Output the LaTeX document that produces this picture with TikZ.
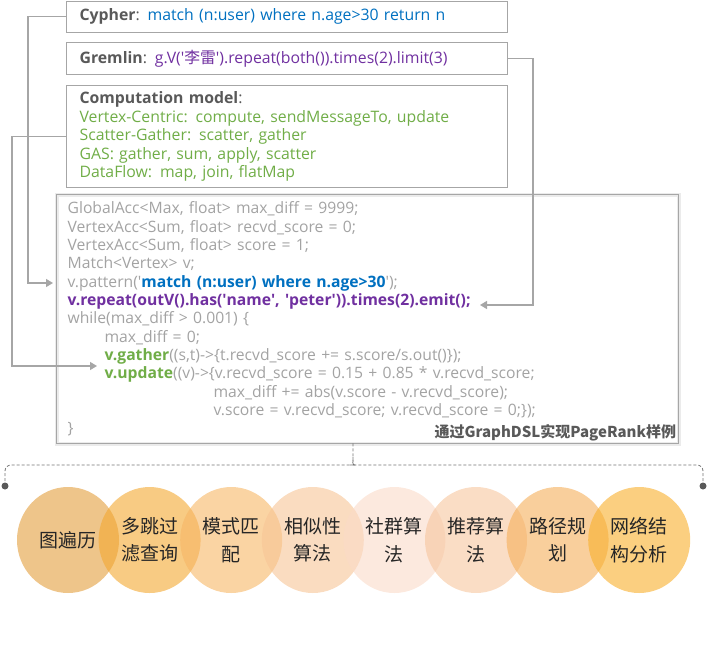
\documentclass[tikz,border=0pt]{standalone}
\usepackage{fontspec}
\setmainfont{Open Sans}
\newfontfamily\cjk{Noto Sans CJK SC}
\usetikzlibrary{arrows.meta,shapes.geometric}
\definecolor{boxgray}{HTML}{A6A6A6}
\definecolor{codegray}{HTML}{A3A3A3}
\definecolor{labgray}{HTML}{595959}
\definecolor{cyblue}{HTML}{0070C0}
\definecolor{grpurple}{HTML}{7030A0}
\definecolor{cmgreen}{HTML}{70AD47}
\definecolor{bub1}{HTML}{E39E3C}
\definecolor{bub2}{HTML}{F3A830}
\definecolor{bub3}{HTML}{F7B766}
\definecolor{bub4}{HTML}{F7C596}
\definecolor{bub5}{HTML}{FADAC8}
\definecolor{bub6}{HTML}{F7C69E}
\definecolor{bub7}{HTML}{F5AF5A}
\definecolor{bub8}{HTML}{F8AF2B}
\tikzset{
	langbox/.style={draw=boxgray, line width=1.2pt, anchor=north west, minimum width=441pt, text width=415pt, inner xsep=13pt, inner ysep=0pt, align=left, text=labgray, font=\fontsize{15.8}{18.5}\selectfont},
	codebox/.style={draw=boxgray, line width=1.2pt, preaction={draw=black!8, line width=4pt}, anchor=north west, minimum width=622pt, minimum height=249pt, text width=600pt, inner xsep=11pt, inner ysep=0pt, align=left, text=codegray, font=\fontsize{15.7}{18.33}\selectfont},
	link/.style={draw=boxgray, line width=1.3pt, -{Triangle[length=7pt,width=8pt]}},
	bracket/.style={draw=black!55, line width=0.8pt, dash pattern=on 3pt off 2pt},
	bubble/.style={ellipse, minimum width=102pt, minimum height=106pt, inner sep=0pt, align=center, fill opacity=0.6, text opacity=1, text=black!85, font=\cjk\fontsize{19}{27.5}\selectfont},
}
\begin{document}
\begin{tikzpicture}[x=1pt, y=-1pt]
	\path[use as bounding box] (0,0) rectangle (709,646);
	\path (28,0) coordinate (L1) (12,0) coordinate (L2) (533,0) coordinate (R1)
		(53,283) coordinate (pat) (97,366) coordinate (gat) (480,305) coordinate (rep)
		(353,443) coordinate (tip) (5,486) coordinate (dl) (703,486) coordinate (dr);
	\node[langbox, minimum height=31pt] (cy) at (66,0.6) {\textbf{Cypher}: \textcolor{cyblue}{match (n:user) where n.age>30 return n}};
	\node[langbox, minimum height=32pt] (gr) at (66,42) {\textbf{Gremlin}: \textcolor{grpurple}{g.V(\textquotesingle{\cjk 李雷}\textquotesingle).repeat(both()).times(2).limit(3)}};
	\node[langbox, minimum height=102pt] (cm) at (66,85) {\textbf{Computation model}:\\\color{cmgreen}Vertex-Centric: compute, sendMessageTo, update\\Scatter-Gather: scatter, gather\\GAS: gather, sum, apply, scatter\\DataFlow: map, join, flatMap};
	\node[codebox] (code) at (56,194) {GlobalAcc<Max, float> max\_diff = 9999;\\
		VertexAcc<Sum, float> recvd\_score = 0;\\
		VertexAcc<Sum, float> score = 1;\\
		Match<Vertex> v;\\
		v.pattern(\textquotesingle\textcolor{cyblue}{\bfseries match (n:user) where n.age>30}\textquotesingle);\\
		\textcolor{grpurple}{\bfseries v.repeat(outV().has(\textquotesingle name\textquotesingle, \textquotesingle peter\textquotesingle)).times(2).emit();}\\
		while(max\_diff > 0.001) \{\\
		\hspace*{37pt}max\_diff = 0;\\
		\hspace*{37pt}\textcolor{cmgreen}{\bfseries v.gather}((s,t)->\{t.recvd\_score += s.score/s.out()\});\\
		\hspace*{37pt}\textcolor{cmgreen}{\bfseries v.update}((v)->\{v.recvd\_score = 0.15 + 0.85 * v.recvd\_score;\\
		\hspace*{146pt}max\_diff += abs(v.score - v.recvd\_score);\\
		\hspace*{146pt}v.score = v.recvd\_score; v.recvd\_score = 0;\});\\
		\}};
	\node[anchor=south east, inner sep=3pt, text=labgray, font=\cjk\bfseries\fontsize{15}{18}\selectfont] (cap) at (code.south east) {通过GraphDSL实现PageRank样例};
	\draw[link] (cy.west) -| (L1 |- pat) -- (pat);
	\draw[link] (cm.west) -| (L2 |- gat) -- (gat);
	\draw[link] (gr.east) -| (R1 |- rep) -- (rep);
	\draw[bracket, rounded corners=6pt] (dl) |- (350,465) [sharp corners] .. controls (353,465) .. (353,457) -- (tip);
	\draw[bracket, rounded corners=6pt] (dr) |- (356,465) [sharp corners] .. controls (353,465) .. (353,457);
	\fill[labgray] (dl) circle (3.5pt) (dr) circle (3.5pt);
	\foreach \t [count=\i] in {图遍历, 多跳过\\滤查询, 模式匹\\配, 相似性\\算法, 社群算\\法, 推荐算\\法, 路径规\\划, 网络结\\构分析}{
		\node[bubble, fill=bub\i] (b\i) at ({68+81.6*(\i-1)},540) {\t};
	}
\end{tikzpicture}
\end{document}
